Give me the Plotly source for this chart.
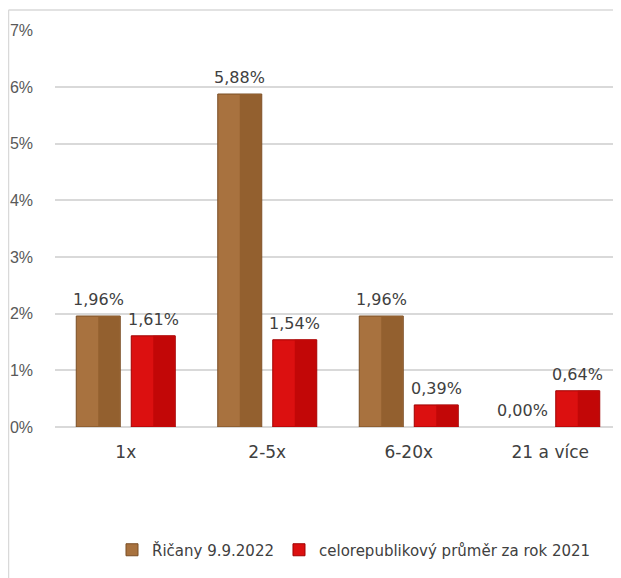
import plotly.graph_objects as go

categories = ["1x", "2-5x", "6-20x", "21 a více"]
ricany = [1.96, 5.88, 1.96, 0.00]
prumer = [1.61, 1.54, 0.39, 0.64]
y_ticks = [0, 1, 2, 3, 4, 5, 6, 7]
y_labels = ["0%", "1%", "2%", "3%", "4%", "5%", "6%", "7%"]

# stranka ma okraj 8 px, graf proto kreslime o 8 px mensi
OFS = 8
W, H = 621 - OFS, 578 - OFS
L, R, T, B = 55 - OFS, 0, 30 - OFS, 578 - 427
pw, ph = W - L - R, H - T - B
cat_px = pw / len(categories)

bar_w = 44 / cat_px
gap = 11 / cat_px
half = bar_w / 2


def px_x(px):
    return (px - OFS - L) / pw


def px_y(py):
    return (H - B - (py - OFS)) / ph


series = [
    ("Řičany 9.9.2022", ricany, "#A8723F", "#93602F", "#7A4E25", -(bar_w + gap / 2)),
    ("celorepublikový průměr za rok 2021", prumer, "#DC1010", "#C20707", "#A00000", gap / 2),
]

fig = go.Figure()
for name, vals, main, dark, edge, off in series:
    fig.add_trace(go.Bar(
        x=categories, y=vals, name=name,
        offset=off, width=bar_w,
        marker=dict(color=main, line=dict(color=edge, width=[1 if v > 0 else 0 for v in vals])),
    ))
    # tmavsi prava polovina (naznak zkoseni)
    fig.add_trace(go.Bar(
        x=categories, y=vals, showlegend=False, hoverinfo="skip",
        offset=off + half, width=half - 0.004,
        marker=dict(color=dark, line=dict(width=0)),
    ))
    # popisky hodnot nad sloupci
    for c, v in zip(categories, vals):
        fig.add_annotation(
            x=c, y=v, xref="x", yref="y",
            text=f"{v:.2f}%".replace(".", ","),
            showarrow=False, yanchor="bottom",
            xshift=(off + half) * cat_px, yshift=5,
            font=dict(family="DejaVu Sans", size=16, color="#404040"),
        )

# ramecek grafu
frame = dict(color="#D9D9D9", width=1.5)
fig.add_shape(type="line", xref="paper", yref="paper",
              x0=px_x(8.5), x1=px_x(630), y0=px_y(10), y1=px_y(10), line=frame)
fig.add_shape(type="line", xref="paper", yref="paper",
              x0=px_x(8.5), x1=px_x(8.5), y0=px_y(10), y1=px_y(590), line=frame)

fig.update_layout(
    width=W, height=H,
    margin=dict(l=L, r=R, t=T, b=B, autoexpand=False),
    barmode="overlay",
    paper_bgcolor="white",
    plot_bgcolor="white",
    font=dict(family="DejaVu Sans", color="#404040"),
    legend=dict(
        orientation="h", x=px_x(112), xanchor="left",
        y=px_y(550), yanchor="middle",
        font=dict(family="DejaVu Sans", size=15, color="#404040"),
        itemwidth=30, tracegroupgap=0,
    ),
    xaxis=dict(
        type="category", range=[-0.5, 3.5],
        showgrid=False, showline=False, zeroline=False,
        tickfont=dict(family="DejaVu Sans", size=17, color="#404040"),
        ticklabelstandoff=13,
    ),
    yaxis=dict(
        range=[0, 7.01], tickvals=y_ticks, ticktext=y_labels,
        showgrid=True, gridcolor="#D9D9D9", gridwidth=1.5,
        zeroline=True, zerolinecolor="#D9D9D9", zerolinewidth=1.5,
        showline=False,
        tickfont=dict(family="Liberation Sans", size=16, color="#595959"),
        ticklabelstandoff=21,
    ),
)

fig.write_html("out.html")
